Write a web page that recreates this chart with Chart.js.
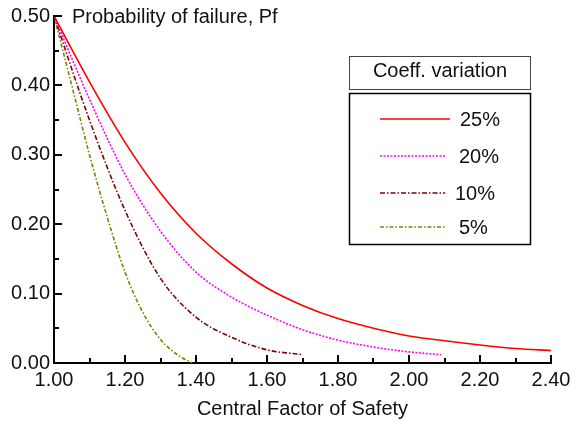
<!DOCTYPE html>
<html>
<head>
<meta charset="utf-8">
<script src="https://cdn.jsdelivr.net/npm/chart.js@4"></script>
<style>
  body { margin: 0; background: #fff; }
  #wrap { width: 578px; height: 421px; position: relative; }
</style>
</head>
<body>
<div id="wrap"><canvas id="pfChart"></canvas></div>
<script>
// Data
const fs25 = [1.00, 1.10, 1.20, 1.30, 1.40, 1.50, 1.60, 1.70, 1.80, 1.90, 2.00, 2.10, 2.20, 2.30, 2.40];
const pf25 = [0.500, 0.405, 0.318, 0.245, 0.187, 0.143, 0.108, 0.083, 0.064, 0.050, 0.039, 0.032, 0.026, 0.021, 0.018];

const fs20 = [1.00, 1.10, 1.20, 1.30, 1.40, 1.50, 1.60, 1.70, 1.80, 1.90, 2.00, 2.09];
const pf20 = [0.500, 0.380, 0.272, 0.190, 0.131, 0.095, 0.069, 0.048, 0.033, 0.023, 0.016, 0.012];

const fs10 = [1.00, 1.10, 1.20, 1.30, 1.40, 1.50, 1.60, 1.70];
const pf10 = [0.500, 0.350, 0.220, 0.122, 0.066, 0.037, 0.019, 0.012];

const fs05 = [1.00, 1.05, 1.10, 1.15, 1.20, 1.25, 1.30, 1.35, 1.39];
const pf05 = [0.500, 0.400, 0.300, 0.210, 0.131, 0.073, 0.034, 0.011, 0.000];

const seriesLabels = ['25%', '20%', '10%', '5%'];
const xTickValues = [1.0, 1.2, 1.4, 1.6, 1.8, 2.0, 2.2, 2.4];
const xMinorValues = [1.1, 1.3, 1.5, 1.7, 1.9, 2.1, 2.3];
const yTickValues = [0.0, 0.1, 0.2, 0.3, 0.4, 0.5];
const yMinorValues = [0.05, 0.15, 0.25, 0.35, 0.45];

const font = "'Liberation Sans', Arial, sans-serif";
const textColor = '#111';

function pts(xs, ys) {
    return xs.map((x, i) => ({ x: x, y: ys[i] }));
}

// inward tick marks, y title and the boxed legend
const decorations = {
    id: 'decorations',
    afterDraw(chart) {
        const ctx = chart.ctx;
        const xs = chart.scales.x, ys = chart.scales.y;
        const left = chart.chartArea.left, bottom = chart.chartArea.bottom;
        ctx.save();
        ctx.strokeStyle = '#000';
        ctx.lineWidth = 2;
        ctx.beginPath();
        xTickValues.forEach(v => {
            const px = Math.round(xs.getPixelForValue(v));
            ctx.moveTo(px, bottom); ctx.lineTo(px, bottom - 8);
        });
        xMinorValues.forEach(v => {
            const px = Math.round(xs.getPixelForValue(v));
            ctx.moveTo(px, bottom); ctx.lineTo(px, bottom - 5);
        });
        yTickValues.forEach(v => {
            const py = Math.round(ys.getPixelForValue(v));
            ctx.moveTo(left, py); ctx.lineTo(left + 8, py);
        });
        yMinorValues.forEach(v => {
            const py = Math.round(ys.getPixelForValue(v));
            ctx.moveTo(left, py); ctx.lineTo(left + 5, py);
        });
        ctx.stroke();

        // y title next to the top tick
        ctx.fillStyle = textColor;
        ctx.font = '20px ' + font;
        ctx.textBaseline = 'middle';
        ctx.textAlign = 'left';
        ctx.fillText('Probability of failure, Pf', 72, ys.getPixelForValue(0.5) + 1);

        // legend title box
        ctx.lineWidth = 1;
        ctx.strokeStyle = '#444';
        ctx.strokeRect(349.5, 56.5, 181, 33);
        ctx.textAlign = 'center';
        ctx.fillText('Coeff. variation', 440, 71);

        // legend items box
        ctx.strokeStyle = '#000';
        ctx.lineWidth = 1.5;
        ctx.strokeRect(349.5, 93.5, 181, 151);
        const rows = [119, 156, 193, 227];
        const textX = [460, 459, 455, 459];
        chart.data.datasets.forEach((ds, i) => {
            ctx.strokeStyle = ds.borderColor;
            ctx.lineWidth = ds.borderWidth;
            ctx.setLineDash(ds.borderDash || []);
            ctx.beginPath();
            ctx.moveTo(380, rows[i]);
            ctx.lineTo(i === 0 ? 450 : 445, rows[i]);
            ctx.stroke();
            ctx.setLineDash([]);
            ctx.fillStyle = textColor;
            ctx.textAlign = 'left';
            ctx.fillText(ds.label, textX[i], rows[i] + 1);
        });
        ctx.restore();
    }
};

const ctx = document.getElementById('pfChart').getContext('2d');
const pfChart = new Chart(ctx, {
    type: 'line',
    data: {
        datasets: [{
            label: seriesLabels[0],
            data: pts(fs25, pf25),
            borderColor: '#ff0000',
            borderWidth: 1.6
        }, {
            label: seriesLabels[1],
            data: pts(fs20, pf20),
            borderColor: '#ff00ff',
            borderWidth: 1.6,
            borderDash: [2, 1.5]
        }, {
            label: seriesLabels[2],
            data: pts(fs10, pf10),
            borderColor: '#800000',
            borderWidth: 1.6,
            borderDash: [5, 2, 1.5, 2]
        }, {
            label: seriesLabels[3],
            data: pts(fs05, pf05),
            borderColor: '#808000',
            borderWidth: 1.6,
            borderDash: [4, 2, 1.5, 2]
        }]
    },
    options: {
        responsive: true,
        maintainAspectRatio: false,
        animation: false,
        layout: {
            padding: { top: 16, right: 27, left: 0, bottom: 0 }
        },
        elements: {
            point: { radius: 0 },
            line: { fill: false, cubicInterpolationMode: 'monotone' }
        },
        scales: {
            x: {
                type: 'linear',
                min: 1.0,
                max: 2.4,
                afterBuildTicks: (scale) => { scale.ticks = xTickValues.map(v => ({ value: v })); },
                afterFit: (scale) => { scale.height = 58; },
                grid: { drawOnChartArea: false, drawTicks: false },
                border: { display: true, color: '#000', width: 2 },
                ticks: {
                    padding: 5,
                    color: textColor,
                    font: { family: font, size: 20 },
                    maxRotation: 0,
                    callback: (v) => Number(v).toFixed(2)
                },
                title: {
                    display: true,
                    text: 'Central Factor of Safety',
                    color: textColor,
                    font: { family: font, size: 20 },
                    padding: { top: 0, bottom: 0 }
                }
            },
            y: {
                type: 'linear',
                min: 0,
                max: 0.5,
                afterBuildTicks: (scale) => { scale.ticks = yTickValues.map(v => ({ value: v })); },
                afterFit: (scale) => { scale.width = 54; },
                grid: { drawOnChartArea: false, drawTicks: false },
                border: { display: true, color: '#000', width: 2 },
                ticks: {
                    padding: 4,
                    color: textColor,
                    font: { family: font, size: 20 },
                    callback: (v) => Number(v).toFixed(2)
                }
            }
        },
        plugins: {
            legend: { display: false },
            tooltip: { enabled: false }
        }
    },
    plugins: [decorations]
});
</script>
</body>
</html>
